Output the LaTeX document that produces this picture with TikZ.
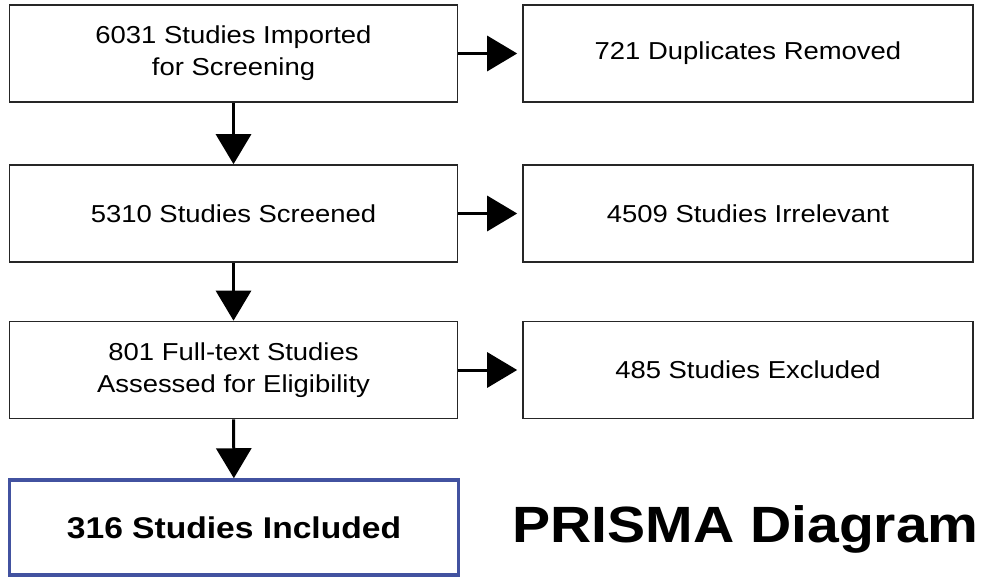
\documentclass[tikz,border=0pt]{standalone}
\usepackage{fontspec}
\setmainfont[FakeStretch=1.12]{Liberation Sans}
\usetikzlibrary{arrows.meta}
\definecolor{boxblue}{RGB}{66,82,160}
\begin{document}
\begin{tikzpicture}[x=1pt,y=-1pt,
  box/.style={draw=black!85,line width=1.6pt,minimum width=448pt,minimum height=97pt,inner sep=0pt,align=center,font=\fontsize{24.5}{32}\selectfont},
  rbox/.style={box,minimum width=450pt},
  final/.style={box,draw=boxblue,line width=3.5pt,minimum width=449pt,minimum height=95pt,font=\fontsize{30}{34}\selectfont\bfseries},
  arr/.style={line width=3pt,-{Triangle[length=30pt,width=35pt]}},
  harr/.style={arr,shorten >=5pt}]
\useasboundingbox (0,0) rectangle (981,577);
\node[box] (a) at (233.5,53.5) {6031 Studies Imported\\for Screening};
\node[box] (b) at (233.5,213.5) {5310 Studies Screened};
\node[box] (c) at (233.5,370) {801 Full-text Studies\\Assessed for Eligibility};
\node[final] (d) at (234,527.5) {316 Studies Included};
\node[rbox] (a2) at (748,53.5) {721 Duplicates Removed};
\node[rbox] (b2) at (748,213.5) {4509 Studies Irrelevant};
\node[rbox] (c2) at (748,370) {485 Studies Excluded};
\node[font=\fontsize{51}{56}\selectfont\bfseries,anchor=base east,inner sep=0pt] (t) at (979,542) {PRISMA Diagram};
\draw[arr] (a) -- (b);
\draw[arr] (b) -- (c);
\draw[arr] (c) -- (d);
\draw[harr] (a) -- (a2);
\draw[harr] (b) -- (b2);
\draw[harr] (c) -- (c2);
\end{tikzpicture}
\end{document}
